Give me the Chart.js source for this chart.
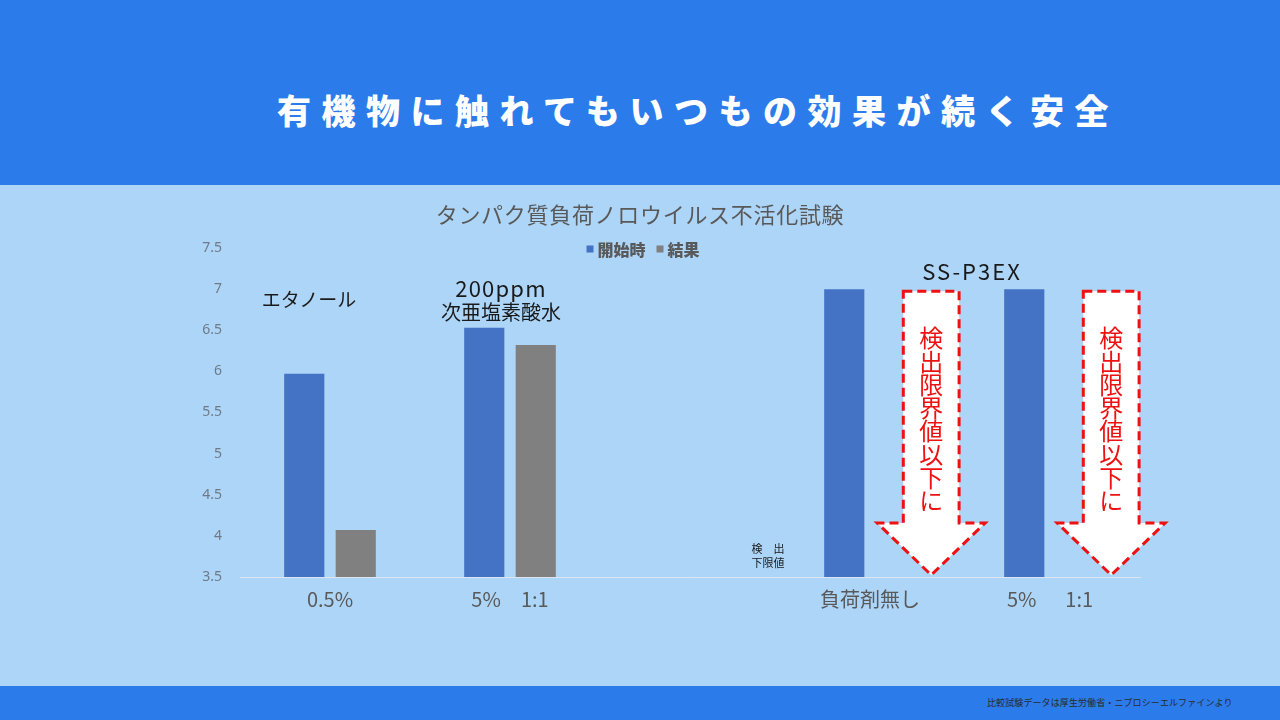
<!DOCTYPE html>
<html><head><meta charset="utf-8">
<script src="https://cdn.jsdelivr.net/npm/chart.js@4.4.1/dist/chart.umd.min.js"></script>
<style>
html,body{margin:0;padding:0}
body{width:1280px;height:720px;overflow:hidden;background:#add5f7;font-family:"Noto Sans CJK JP","Noto Sans",sans-serif;position:relative}
#hdr{position:absolute;left:0;top:0;width:1280px;height:185px;background:#2b7bea}
#hdr h1{position:absolute;left:277px;top:88px;margin:0;font-size:34px;line-height:44px;font-weight:900;color:#fff;letter-spacing:10.5px;white-space:nowrap}
#ftr{position:absolute;left:0;top:686px;width:1280px;height:34px;background:#2b7bea}
#ftr span{position:absolute;left:987px;top:10px;font-size:9px;line-height:14px;color:#2a2a2a;white-space:nowrap;letter-spacing:0.1px}
#wrap{position:absolute;left:0;top:185px;width:1280px;height:501px}
.t{position:absolute;white-space:nowrap;color:#1a1a1a;transform:translate(-50%,-50%);line-height:1}
#ctitle{left:640px;top:213px;font-size:22px;color:#595959;letter-spacing:0.7px}
</style></head>
<body>
<div id="hdr"><h1>有機物に触れてもいつもの効果が続く安全</h1></div>
<div id="wrap"><canvas id="c" width="1280" height="501"></canvas></div>
<div class="t" id="ctitle">タンパク質負荷ノロウイルス不活化試験</div>
<div class="t" style="left:309px;top:298px;font-size:19px;">エタノール</div>
<div class="t" style="left:501px;top:287px;font-size:22px;letter-spacing:1.2px;">200ppm</div>
<div class="t" style="left:501px;top:312px;font-size:20px;">次亜塩素酸水</div>
<div class="t" style="left:972px;top:270px;font-size:22px;letter-spacing:2px;">SS-P3EX</div>
<div class="t" style="left:768px;top:548px;font-size:11px;">検　出</div>
<div class="t" style="left:768px;top:562px;font-size:11px;">下限値</div>
<div id="ftr"><span>比較試験データは厚生労働省・ニプロシーエルファインより</span></div>
<script>
// ---- data ----
const categories = ["0.5%", "5%　1:1", "", "負荷剤無し", "5%　  1:1"];
const seriesNames = ["開始時", "結果"];
const startValues = [5.97, 6.53, null, 7.0, 7.0];
const resultValues = [4.07, 6.32, null, null, null];
const belowLimit = [false, false, false, true, true];
const arrowText = "検出限界値以下に";
const yTicks = [3.5, 4, 4.5, 5, 5.5, 6, 6.5, 7, 7.5];
const yTickLabels = ["3.5", "4", "4.5", "5", "5.5", "6", "6.5", "7", "7.5"];

const colors = ["#4472c4", "#808080"];

const legendPlugin = {
  id: 'customLegend',
  afterDraw(chart) {
    const ctx = chart.ctx;
    ctx.save();
    ctx.font = '900 16px "Noto Sans CJK JP"';
    ctx.textBaseline = 'middle';
    const items = chart.data.datasets.map(d => ({label: d.label, color: d.backgroundColor}));
    const sq = 7, gap = 4, itemGap = 11;
    let total = 0;
    items.forEach((it, i) => { total += sq + gap + ctx.measureText(it.label).width + (i ? itemGap : 0); });
    let x = 643 - total / 2;
    const y = 65;
    items.forEach((it, i) => {
      if (i) x += itemGap;
      ctx.fillStyle = it.color;
      ctx.fillRect(x, y - sq / 2 - 1, sq, sq);
      x += sq + gap;
      ctx.fillStyle = '#595959';
      ctx.fillText(it.label, x, y);
      x += ctx.measureText(it.label).width;
    });
    ctx.restore();
  }
};

const arrowPlugin = {
  id: 'arrows',
  afterDatasetsDraw(chart) {
    const ctx = chart.ctx;
    const xs = chart.scales.x, ys = chart.scales.y;
    const w = xs.getPixelForValue(1) - xs.getPixelForValue(0);
    ctx.save();
    belowLimit.forEach((flag, i) => {
      if (!flag) return;
      const cx = xs.getPixelForValue(i) + 0.34 * w;
      const top = ys.getPixelForValue(startValues[i]) + 2;
      const tip = ys.bottom - 2;
      const headBase = tip - 52;
      const sw = 0.155 * w, hw = 0.3 * w;
      ctx.beginPath();
      ctx.moveTo(cx - sw, top);
      ctx.lineTo(cx + sw, top);
      ctx.lineTo(cx + sw, headBase);
      ctx.lineTo(cx + hw, headBase);
      ctx.lineTo(cx, tip);
      ctx.lineTo(cx - hw, headBase);
      ctx.lineTo(cx - sw, headBase);
      ctx.closePath();
      ctx.fillStyle = '#ffffff';
      ctx.fill();
      ctx.setLineDash([9, 5]);
      ctx.lineWidth = 3;
      ctx.strokeStyle = '#ee1111';
      ctx.stroke();
      ctx.setLineDash([]);
      ctx.fillStyle = '#ee1111';
      ctx.font = '24px "Noto Sans CJK JP"';
      ctx.textAlign = 'center';
      ctx.textBaseline = 'middle';
      [...arrowText].forEach((ch, k) => {
        ctx.fillText(ch, cx, top + 47 + k * 23.3);
      });
    });
    ctx.restore();
  }
};

new Chart(document.getElementById('c'), {
  type: 'bar',
  data: {
    labels: categories,
    datasets: [
      {label: seriesNames[0], data: startValues, backgroundColor: colors[0]},
      {label: seriesNames[1], data: resultValues, backgroundColor: colors[1]}
    ]
  },
  options: {
    responsive: false,
    animation: false,
    devicePixelRatio: 1,
    layout: {padding: {left: 0, right: 140, top: 63, bottom: 0}},
    datasets: {bar: {categoryPercentage: 0.572, barPercentage: 0.78}},
    plugins: {legend: {display: false}, title: {display: false}, tooltip: {enabled: false}},
    scales: {
      x: {
        grid: {display: false, drawTicks: false},
        border: {display: true, color: '#dde6ef', width: 1},
        ticks: {color: '#595959', font: {family: '"Noto Sans CJK JP"', size: 20}, padding: 10, maxRotation: 0, autoSkip: false},
        afterFit(s) { s.height = 109; }
      },
      y: {
        min: 3.5, max: 7.5,
        grid: {display: false, drawTicks: false},
        border: {display: false},
        afterBuildTicks(s) { s.ticks = yTicks.map(v => ({value: v})); },
        ticks: {
          color: '#6e7a88', font: {family: '"Noto Sans"', size: 14}, padding: 18,
          callback: (v) => yTickLabels[yTicks.indexOf(v)]
        },
        afterFit(s) { s.width = 240; }
      }
    }
  },
  plugins: [legendPlugin, arrowPlugin]
});
</script>
</body></html>
